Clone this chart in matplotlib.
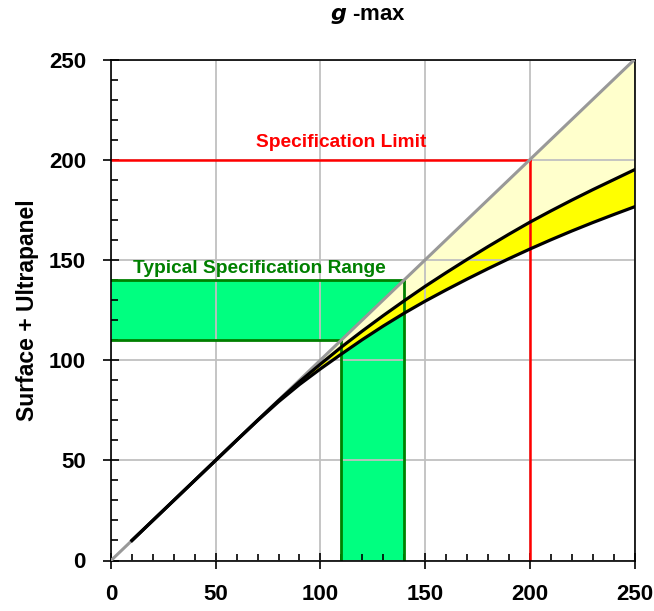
import matplotlib
matplotlib.use("Agg")
import matplotlib.pyplot as plt
from matplotlib.ticker import MultipleLocator
import numpy as np

plt.rcParams["font.family"] = ["Liberation Sans", "DejaVu Sans"]
plt.rcParams["font.weight"] = "bold"

# --- data ---
x_vals = [0, 10, 20, 30, 40, 50, 60, 70, 80, 90, 100, 110, 120, 130, 140, 150,
          160, 170, 180, 190, 200, 210, 220, 230, 240, 250]
upper = [0, 10, 20, 30, 40, 50, 60, 70, 79.8, 89.2, 98, 106.5, 114.5, 122.2, 129.6,
         136.8, 143.6, 150.2, 156.6, 162.8, 168.8, 174.4, 179.8, 185, 190, 195]
lower = [0, 10, 20, 30, 40, 50, 60, 69.8, 79.2, 87.8, 95.6, 103, 110.2, 117, 123.4,
         129.4, 135, 140.4, 145.6, 150.6, 155.4, 160, 164.4, 168.6, 172.6, 176.5]
diag = [0, 250]

spec_limit = 200
typ_range = (110, 140)

ticks = [0, 50, 100, 150, 200, 250]

# --- figure ---
W, H, DPI = 654, 611, 100
fig = plt.figure(figsize=(W / DPI, H / DPI), dpi=DPI)
ax = fig.add_axes((111 / W, 1 - 560.5 / H, (634.5 - 111) / W, (560.5 - 59.5) / H))

ax.set_xlim(0, 250)
ax.set_ylim(0, 250)
ax.set_xticks(ticks)
ax.set_yticks(ticks)
ax.xaxis.set_minor_locator(MultipleLocator(10))
ax.yaxis.set_minor_locator(MultipleLocator(10))
ax.tick_params(which="major", direction="inout", length=12, width=1.2,
               labelsize=16, pad=12, colors="black")
ax.tick_params(axis="x", which="major", pad=11)
ax.tick_params(which="minor", direction="in", length=5, width=1.2)
ax.grid(True, which="major", color="#c0c0c0", linewidth=1.3)
ax.set_axisbelow(True)  # grid at zorder 0.5, above the fills below
for s in ax.spines.values():
    s.set_linewidth(1.2)

# typical specification range (L-shaped green band)
lo, hi = typ_range
green_x = [0, lo, lo, hi, hi, 0]
green_y = [lo, lo, 0, 0, hi, hi]
ax.fill(green_x, green_y, facecolor="#00ff80", edgecolor="none", zorder=0.1)

# bands
xa = np.array(x_vals, dtype=float)
ax.fill_between(xa, xa, lower, facecolor="#ffffcc", edgecolor="none", zorder=0.2)
ax.fill_between(xa, upper, lower, facecolor="#ffff00", edgecolor="none", zorder=0.3)

ax.plot([0, lo], [lo, lo], color="#008000", lw=2, zorder=2)
ax.plot([0, hi], [hi, hi], color="#008000", lw=2, zorder=2)
ax.plot([lo, lo], [0, lo], color="#008000", lw=2, zorder=2)
ax.plot([hi, hi], [0, hi], color="#008000", lw=2, zorder=2)

# spec limit
ax.plot([0, spec_limit], [spec_limit, spec_limit], color="#ff0000", lw=1.8, zorder=2)
ax.plot([spec_limit, spec_limit], [0, spec_limit], color="#ff0000", lw=1.8, zorder=2)

ax.plot(diag, diag, color="#999999", lw=2.2, zorder=6)
ax.plot(x_vals[1:], upper[1:], color="black", lw=2.3, zorder=7)
ax.plot(x_vals[1:], lower[1:], color="black", lw=2.3, zorder=7)

ax.text(110, 208.5, "Specification Limit", color="#ff0000", fontsize=13.8,
        fontweight="bold", ha="center", va="center", zorder=8)
ax.text(71, 145.5, "Typical Specification Range", color="#008000", fontsize=13.8,
        fontweight="bold", ha="center", va="center", zorder=8)

ax.set_ylabel("Surface + Ultrapanel", fontsize=16.5, fontweight="bold", labelpad=7)
fig.text(368 / W, 1 - 16 / H, r"$\mathbf{\mathit{g}}$ -max", fontsize=16,
         fontweight="bold", ha="center", va="center")

fig.savefig("out.png", dpi=DPI)
